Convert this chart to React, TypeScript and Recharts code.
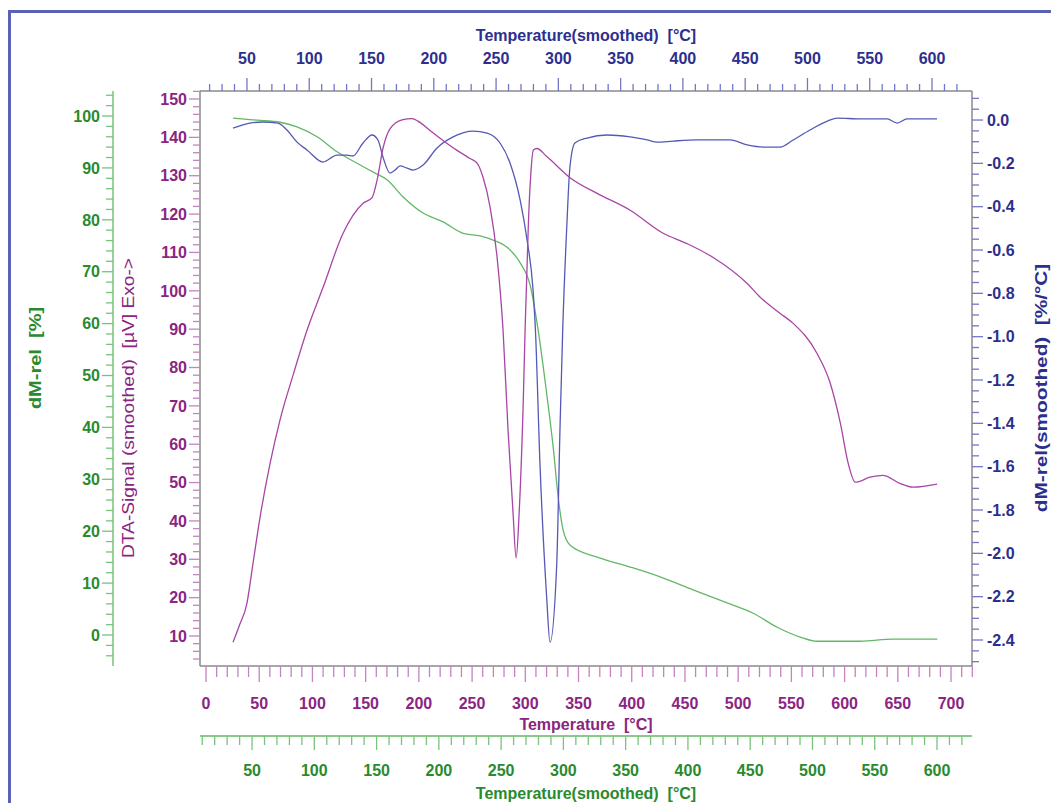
import React from 'react';
import { LineChart, Line, XAxis, YAxis } from 'recharts';

const FONT = '"Liberation Sans", Arial, Helvetica, sans-serif';

// ---- DTA signal (purple) vs Temperature [°C]
const dtaTemperature = [25.4, 31, 38.5, 44.2, 50.8, 60.2, 69.5, 81.8, 94.9, 110, 128.8, 147.6, 156, 160.7, 166.4, 173, 185, 193.6, 201, 210.5, 222.7, 235.9, 248, 254.7, 260.3, 267, 273.5, 279.1, 283.8, 288.5, 291.4, 294.2, 298.2, 299.8, 302.9, 305.3, 307.6, 310.8, 320.2, 342, 367.5, 398.5, 429.5, 452, 476.5, 508.5, 520.7, 539.5, 551.7, 574, 586.5, 596, 603.4, 610, 624, 636, 652, 664.5, 687];
const dtaSignal = [8.4, 12.5, 18.6, 29, 41, 55, 66.3, 78, 89.7, 100.9, 115, 122.8, 124.3, 128.8, 137.3, 142.3, 144.6, 144.9, 143.9, 141.8, 139.2, 136.6, 134.5, 133.3, 129.6, 121.7, 108.7, 89.7, 63.6, 42, 30.3, 42, 72.4, 89.8, 117.6, 131, 136.7, 137.1, 135, 129.5, 125.4, 121, 115, 112.3, 108.7, 101.9, 98.3, 94.1, 91.5, 83.7, 75.9, 65.5, 55, 50.1, 51.4, 51.9, 49.8, 48.8, 49.6];

// ---- dM-rel(smoothed) (blue) vs Temperature(smoothed) [°C]
const dtgTemperature = [38.8, 52.4, 62.9, 74.9, 82.1, 90.2, 98.2, 111, 122.3, 130.3, 135.1, 143.2, 150.4, 155.2, 159.2, 164.9, 168.9, 172.9, 178.5, 183.3, 191.4, 202.6, 215.5, 231.5, 242.8, 253.2, 261.2, 269.3, 274.9, 279.7, 281.6, 285.2, 290.6, 293.3, 298.7, 301.3, 303.5, 306.9, 309.3, 313.3, 323.1, 339.2, 357.6, 371.3, 379.3, 392.2, 411.4, 438, 451.6, 464.5, 478, 488.6, 502, 516, 524, 542.4, 564, 572, 580, 604];
const dtgRate = [-0.037, -0.014, -0.009, -0.014, -0.046, -0.102, -0.138, -0.194, -0.162, -0.162, -0.166, -0.106, -0.069, -0.092, -0.171, -0.245, -0.231, -0.212, -0.222, -0.231, -0.208, -0.129, -0.078, -0.051, -0.06, -0.106, -0.198, -0.369, -0.554, -0.785, -0.969, -1.58, -2.2, -2.41, -2.05, -1.43, -0.969, -0.475, -0.217, -0.106, -0.083, -0.069, -0.078, -0.092, -0.102, -0.097, -0.092, -0.092, -0.115, -0.125, -0.125, -0.092, -0.046, -0.005, 0.009, 0.005, 0.005, -0.014, 0.005, 0.005];

// ---- dM-rel [%] (green) vs Temperature(smoothed) [°C]
const tgTemperature = [34.7, 54, 72.5, 86.1, 102.2, 118.3, 134.3, 147.2, 158.4, 171.3, 187.3, 203.4, 219.5, 233.1, 243.6, 254.8, 265.3, 273.3, 279.7, 286.9, 291.8, 295.8, 299.8, 305.4, 327.1, 353.6, 377.7, 404.2, 431.5, 452.4, 471.7, 490.2, 503.8, 538.4, 564.9, 600.2];
const tgMass = [99.6, 99.2, 98.8, 97.9, 96, 93.1, 90.9, 89.2, 87.7, 84.4, 81.3, 79.6, 77.4, 76.9, 76.1, 74.7, 71.7, 67.4, 58.8, 45.9, 36.2, 26.6, 20.2, 17.3, 15, 13.1, 11.2, 8.7, 6.2, 4.2, 1.5, -0.4, -1.2, -1.2, -0.8, -0.8];

// ---- tick labels
const temperatureTicks = [0, 50, 100, 150, 200, 250, 300, 350, 400, 450, 500, 550, 600, 650, 700];
const smoothedTemperatureTicks = [50, 100, 150, 200, 250, 300, 350, 400, 450, 500, 550, 600];
const massTicks = [0, 10, 20, 30, 40, 50, 60, 70, 80, 90, 100];
const dtaTicks = [10, 20, 30, 40, 50, 60, 70, 80, 90, 100, 110, 120, 130, 140, 150];
const dtgTicks = [0, -0.2, -0.4, -0.6, -0.8, -1.0, -1.2, -1.4, -1.6, -1.8, -2.0, -2.2, -2.4];

const dtaData = dtaTemperature.map((t, i) => ({ t, v: dtaSignal[i] }));
const dtgData = dtgTemperature.map((t, i) => ({ t, v: dtgRate[i] }));
const tgData = tgTemperature.map((t, i) => ({ t, v: tgMass[i] }));

function range(from: number, to: number, step: number) {
  const out: number[] = [];
  const n = Math.round((to - from) / step);
  for (let i = 0; i <= n; i++) out.push(Math.round((from + i * step) * 1000) / 1000);
  return out;
}

const temperatureMinor = range(0, 720, 10);
const smoothedTopMinor = range(20, 620, 10);
const smoothedBottomMinor = range(10, 620, 10);
const massMinor = range(-4, 104, 2);
const dtaMinor = range(4, 152, 2);
const dtgMinor = range(-2.5, 0.1, 0.05);

const GREEN_TEXT = '#2a8a2e';
const GREEN_LINE = '#62b865';
const GREEN_TICK = '#78c47a';
const PURPLE_TEXT = '#8a2582';
const PURPLE_LINE = '#a845a6';
const PURPLE_TICK = '#c682c2';
const BLUE_TEXT = '#2d2f8e';
const BLUE_LINE = '#5459b6';
const BLUE_TICK = '#7377c4';
const FRAME = '#8a8a8a';

type Side = 'left' | 'right' | 'top' | 'bottom';
interface TickCfg {
  side: Side;
  majors: number[];
  text: string;
  tick: string;
  major: number;
  minor: number;
  offset: number;
  fmt?: (v: number) => string;
}

const makeTick = (cfg: TickCfg) => (props: any) => {
  const { x, y, payload } = props;
  const v = Number(payload.value);
  const isMajor = cfg.majors.some((m) => Math.abs(m - v) < 1e-6);
  const len = isMajor ? cfg.major : cfg.minor;
  const label = isMajor ? (cfg.fmt ? cfg.fmt(v) : String(v)) : null;
  const ts = { fontFamily: FONT, fontWeight: 700, fontSize: 16 } as React.CSSProperties;
  let line: any;
  let text: any = null;
  if (cfg.side === 'left') {
    line = <line x1={x - len} x2={x} y1={y} y2={y} stroke={cfg.tick} strokeWidth={1.3} />;
    if (label) text = <text x={x - cfg.offset} y={y} dy="0.36em" textAnchor="end" fill={cfg.text} style={ts}>{label}</text>;
  } else if (cfg.side === 'right') {
    line = <line x1={x} x2={x + len} y1={y} y2={y} stroke={cfg.tick} strokeWidth={1.3} />;
    if (label) text = <text x={x + cfg.offset} y={y} dy="0.36em" textAnchor="start" fill={cfg.text} style={ts}>{label}</text>;
  } else if (cfg.side === 'top') {
    line = <line x1={x} x2={x} y1={y - len} y2={y} stroke={cfg.tick} strokeWidth={1.3} />;
    if (label) text = <text x={x} y={y - cfg.offset} dy="0.36em" textAnchor="middle" fill={cfg.text} style={ts}>{label}</text>;
  } else {
    line = <line x1={x} x2={x} y1={y} y2={y + len} stroke={cfg.tick} strokeWidth={1.3} />;
    if (label) text = <text x={x} y={y + cfg.offset} dy="0.36em" textAnchor="middle" fill={cfg.text} style={ts}>{label}</text>;
  }
  return (
    <g>
      {line}
      {text}
    </g>
  );
};

const titleStyle = { fontFamily: FONT, fontWeight: 700, fontSize: 16 } as React.CSSProperties;

const HTitle = ({ x, y, text, color }: { x: number; y: number; text: string; color: string }) => (
  <text x={x} y={y} dy="0.36em" textAnchor="middle" fill={color} style={titleStyle} xmlSpace="preserve">
    {text}
  </text>
);
const VTitle = ({ x, y, text, color, stretch, weight = 700 }: { x: number; y: number; text: string; color: string; stretch: number; weight?: number }) => (
  <text
    x={0}
    y={0}
    dy="0.36em"
    textAnchor="middle"
    fill={color}
    style={{ ...titleStyle, fontWeight: weight }}
    transform={`translate(${x} ${y}) rotate(-90) scale(${stretch} 1)`}
    xmlSpace="preserve"
  >
    {text}
  </text>
);

// layout (chart-local coordinates; the chart sits at the page's 8px body margin)
const W = 1043;
const H = 795;
const M = { top: 4, right: 0, bottom: 0, left: 12 };
const PURPLE_Y_W = 87;
const GREEN_Y_W = 93;
const RIGHT_Y_W = 79;
const TOP_X_H = 79;
const PURPLE_X_H = 70;
const GREEN_X_H = 67;
const PLOT_CX = (M.left + GREEN_Y_W + PURPLE_Y_W + (W - RIGHT_Y_W)) / 2;

export default function App() {
  return (
    <div style={{ position: 'relative', width: W, height: H, overflow: 'hidden', background: '#fff' }}>
      <div
        style={{
          position: 'absolute',
          left: 0,
          top: 2,
          width: 3000,
          height: 3000,
          borderLeft: '3px solid #5a62b6',
          borderTop: '3px solid #5a62b6',
        }}
      />
      <div style={{ position: 'absolute', left: 0, top: 0 }}>
        <LineChart width={W} height={H} margin={M}>
          <XAxis
            xAxisId="top"
            orientation="top"
            type="number"
            dataKey="t"
            domain={[12.3, 632.1]}
            allowDataOverflow
            ticks={smoothedTopMinor}
            interval={0}
            height={TOP_X_H}
            tickSize={0}
            tickMargin={0}
            tickLine={false}
            axisLine={{ stroke: FRAME, strokeWidth: 1.5 }}
            tick={makeTick({ side: 'top', majors: smoothedTemperatureTicks, text: BLUE_TEXT, tick: BLUE_TICK, major: 13, minor: 7, offset: 33 })}
            label={{ content: () => <HTitle x={PLOT_CX} y={27} text="Temperature(smoothed)  [°C]" color={BLUE_TEXT} /> }}
          />
          <XAxis
            xAxisId="b_smooth"
            orientation="bottom"
            type="number"
            dataKey="t"
            domain={[8.2, 628.1]}
            allowDataOverflow
            ticks={smoothedBottomMinor}
            interval={0}
            height={GREEN_X_H}
            tickSize={0}
            tickMargin={0}
            tickLine={false}
            axisLine={{ stroke: GREEN_LINE, strokeWidth: 1.5 }}
            tick={makeTick({ side: 'bottom', majors: smoothedTemperatureTicks, text: GREEN_TEXT, tick: GREEN_TICK, major: 14, minor: 9, offset: 34 })}
            label={{ content: () => <HTitle x={PLOT_CX} y={785} text="Temperature(smoothed)  [°C]" color={GREEN_TEXT} /> }}
          />
          <XAxis
            xAxisId="a_temp"
            orientation="bottom"
            type="number"
            dataKey="t"
            domain={[-5.64, 719.7]}
            allowDataOverflow
            ticks={temperatureMinor}
            interval={0}
            height={PURPLE_X_H}
            tickSize={0}
            tickMargin={0}
            tickLine={false}
            axisLine={{ stroke: FRAME, strokeWidth: 1.5 }}
            tick={makeTick({ side: 'bottom', majors: temperatureTicks, text: PURPLE_TEXT, tick: PURPLE_TICK, major: 16, minor: 11, offset: 37 })}
            label={{ content: () => <HTitle x={PLOT_CX} y={716} text="Temperature  [°C]" color={PURPLE_TEXT} /> }}
          />
          <YAxis
            yAxisId="dta"
            orientation="left"
            type="number"
            domain={[2.18, 152.09]}
            allowDataOverflow
            ticks={dtaMinor}
            interval={0}
            width={PURPLE_Y_W}
            tickSize={0}
            tickMargin={0}
            tickLine={false}
            axisLine={{ stroke: FRAME, strokeWidth: 1.5 }}
            tick={makeTick({ side: 'left', majors: dtaTicks, text: PURPLE_TEXT, tick: PURPLE_TICK, major: 11, minor: 7, offset: 13 })}
            label={{ content: () => <VTitle x={120} y={400} stretch={1.2} weight={400} text="DTA-Signal (smoothed)  [µV] Exo->" color={PURPLE_TEXT} /> }}
          />
          <YAxis
            yAxisId="tg"
            orientation="left"
            type="number"
            domain={[-5.97, 104.82]}
            allowDataOverflow
            ticks={massMinor}
            interval={0}
            width={GREEN_Y_W}
            tickSize={0}
            tickMargin={0}
            tickLine={false}
            axisLine={{ stroke: GREEN_LINE, strokeWidth: 1.3 }}
            tick={makeTick({ side: 'left', majors: massTicks, text: GREEN_TEXT, tick: GREEN_TICK, major: 11, minor: 7, offset: 13 })}
            label={{ content: () => <VTitle x={27} y={350} stretch={1.25} text="dM-rel  [%]" color={GREEN_TEXT} /> }}
          />
          <YAxis
            yAxisId="dtg"
            orientation="right"
            type="number"
            domain={[-2.52, 0.134]}
            allowDataOverflow
            ticks={dtgMinor}
            interval={0}
            width={RIGHT_Y_W}
            tickSize={0}
            tickMargin={0}
            tickLine={false}
            axisLine={{ stroke: FRAME, strokeWidth: 1.5 }}
            tick={makeTick({ side: 'right', majors: dtgTicks, text: BLUE_TEXT, tick: BLUE_TICK, major: 11, minor: 7, offset: 15, fmt: (v) => v.toFixed(1) })}
            label={{ content: () => <VTitle x={1033} y={380} stretch={1.3} text="dM-rel(smoothed)  [%/°C]" color={BLUE_TEXT} /> }}
          />
          <Line
            data={tgData}
            xAxisId="b_smooth"
            yAxisId="tg"
            dataKey="v"
            type="monotone"
            stroke={GREEN_LINE}
            strokeWidth={1.3}
            dot={false}
            activeDot={false}
            isAnimationActive={false}
          />
          <Line
            data={dtgData}
            xAxisId="top"
            yAxisId="dtg"
            dataKey="v"
            type="monotone"
            stroke={BLUE_LINE}
            strokeWidth={1.3}
            dot={false}
            activeDot={false}
            isAnimationActive={false}
          />
          <Line
            data={dtaData}
            xAxisId="a_temp"
            yAxisId="dta"
            dataKey="v"
            type="monotone"
            stroke={PURPLE_LINE}
            strokeWidth={1.3}
            dot={false}
            activeDot={false}
            isAnimationActive={false}
          />
        </LineChart>
      </div>
    </div>
  );
}
